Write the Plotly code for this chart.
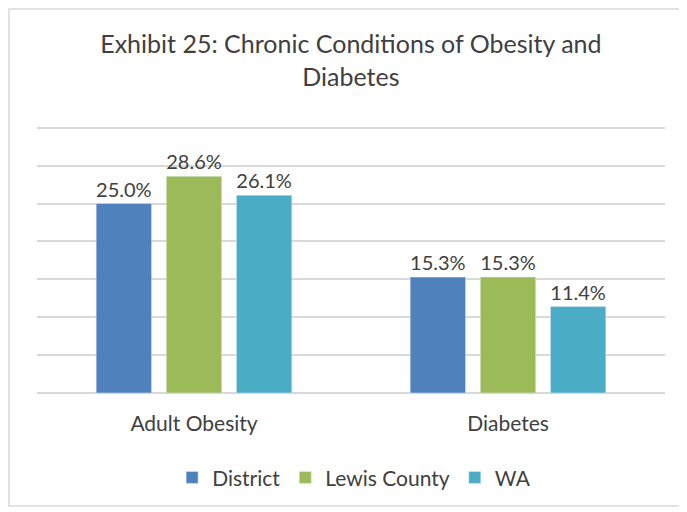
import plotly.graph_objects as go

categories = ['Adult Obesity', 'Diabetes']
series_names = ['District', 'Lewis County', 'WA']
district = [25.0, 15.3]
lewis_county = [28.6, 15.3]
wa = [26.1, 11.4]

colors = ['#4F81BD', '#9BBB59', '#4BACC6']
font_family = 'Lato, "Open Sans", sans-serif'

# the page has an 8px body margin, so the figure is sized to fit the window
W, H = 679, 504
L, R, T, B = 29, 22, 116, 119
ph = H - T - B

fig = go.Figure()
for name, vals, clr in zip(series_names, [district, lewis_county, wa], colors):
    fig.add_trace(go.Bar(
        x=categories, y=vals, name=name,
        marker=dict(color=clr),
        text=[f'{v:.1f}%' for v in vals],
        textposition='outside',
        constraintext='none',
        textfont=dict(size=20, color='#404040', family=font_family),
        cliponaxis=False,
    ))

fig.update_layout(
    width=W, height=H,
    margin=dict(l=L, r=R, t=T, b=B, autoexpand=False),
    paper_bgcolor='white', plot_bgcolor='white',
    font=dict(family=font_family, color='#404040'),
    barmode='group', bargap=0.33, bargroupgap=0.21,
    title=dict(
        text='Exhibit 25: Chronic Conditions of Obesity and<br>Diabetes',
        x=0.505, xanchor='center', y=0.91, yanchor='middle',
        font=dict(size=25, color='#404040', family=font_family),
    ),
    yaxis=dict(range=[0, 35.5], tick0=0, dtick=5, showticklabels=False,
               showgrid=True, gridcolor='#d9d9d9', gridwidth=1.5,
               zeroline=True, zerolinecolor='#d9d9d9', zerolinewidth=1.5),
    xaxis=dict(tickfont=dict(size=21, color='#404040'), ticks='',
               ticklabelstandoff=16, showline=False),
    legend=dict(orientation='h', x=0.505, xanchor='center', y=-0.315, yanchor='middle',
                font=dict(size=21, color='#404040'), itemwidth=30),
    showlegend=True,
    shapes=[dict(type='rect', xref='paper', yref='paper',
                 x0=(1 - L) / (W - L - R), x1=1 + (R - 4) / (W - L - R),
                 y0=-(B - 6) / ph, y1=1 + (T - 1) / ph,
                 line=dict(color='#d9d9d9', width=1.5))],
)

fig.write_html('out.html')
